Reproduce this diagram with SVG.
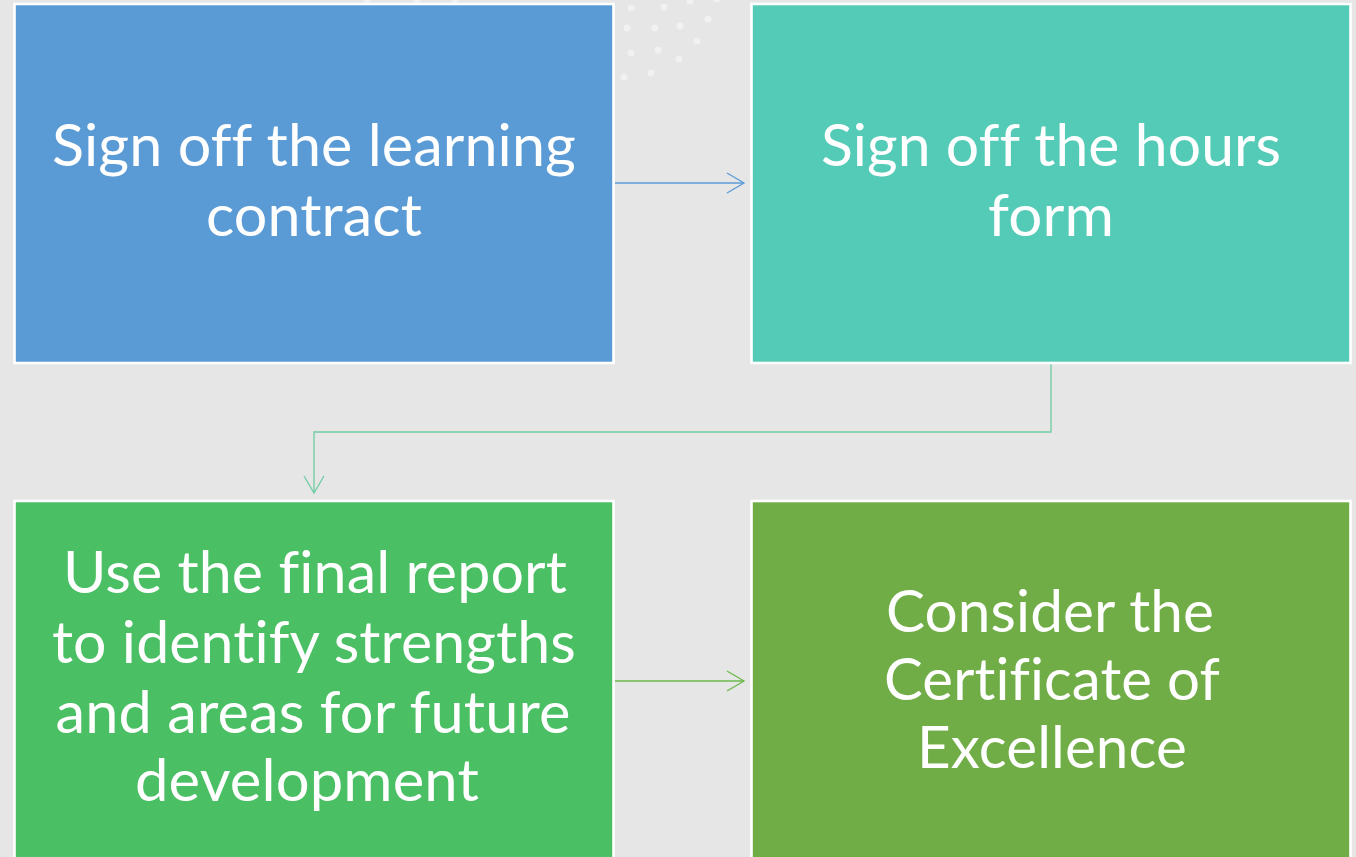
<svg xmlns="http://www.w3.org/2000/svg" width="1356" height="857" viewBox="0 0 1356 857">
  <style>
    .box { stroke: #ffffff; stroke-width: 2.6; }
    .label { font-family: "Lato", "Open Sans", "Liberation Sans", sans-serif; font-size: 58px; fill: #ffffff; text-anchor: middle; letter-spacing: 0.1px; font-variant-ligatures: none; font-feature-settings: "liga" 0, "clig" 0; }
    .dot { fill: #ffffff; fill-opacity: 0.45; }
    .conn { fill: none; stroke-width: 1.3; }
  </style>
  <defs>
    <marker id="arrow-blue" viewBox="0 0 20 22" refX="18" refY="11" markerWidth="20" markerHeight="22" markerUnits="userSpaceOnUse" orient="auto">
      <path d="M1,1 L18,11 L1,21" fill="none" stroke="#5B9BD5" stroke-width="1.3"/>
    </marker>
    <marker id="arrow-teal" viewBox="0 0 20 22" refX="18" refY="11" markerWidth="20" markerHeight="22" markerUnits="userSpaceOnUse" orient="auto">
      <path d="M1,1 L18,11 L1,21" fill="none" stroke="#6ECDA2" stroke-width="1.3"/>
    </marker>
    <marker id="arrow-green" viewBox="0 0 20 22" refX="18" refY="11" markerWidth="20" markerHeight="22" markerUnits="userSpaceOnUse" orient="auto">
      <path d="M1,1 L18,11 L1,21" fill="none" stroke="#6DB84C" stroke-width="1.3"/>
    </marker>
  </defs>

  <!-- background -->
  <rect x="0" y="0" width="1356" height="857" fill="#E6E6E6"/>

  <!-- decorative dot pattern -->
  <g id="dots">
    <circle class="dot" cx="367" cy="0" r="3.5"/>
    <circle class="dot" cx="417" cy="0" r="3.5"/>
    <circle class="dot" cx="455" cy="1" r="3.5"/>
    <circle class="dot" cx="631" cy="8" r="3.5"/>
    <circle class="dot" cx="664" cy="7" r="3.5"/>
    <circle class="dot" cx="690" cy="1" r="3.5"/>
    <circle class="dot" cx="717" cy="-1" r="3.5"/>
    <circle class="dot" cx="708" cy="19" r="3.5"/>
    <circle class="dot" cx="680" cy="26" r="3.5"/>
    <circle class="dot" cx="655" cy="28" r="3.5"/>
    <circle class="dot" cx="627" cy="28" r="3.5"/>
    <circle class="dot" cx="697" cy="41" r="3.5"/>
    <circle class="dot" cx="658" cy="50" r="3.5"/>
    <circle class="dot" cx="631" cy="53" r="3.5"/>
    <circle class="dot" cx="679" cy="59" r="3.5"/>
    <circle class="dot" cx="651" cy="73" r="3.5"/>
    <circle class="dot" cx="624" cy="77" r="3.5"/>
  </g>

  <!-- connectors -->
  <g id="connectors">
    <path class="conn" d="M615,183 H744" stroke="#5B9BD5" marker-end="url(#arrow-blue)"/>
    <path class="conn" d="M1051,364 V432 H314 V493" stroke="#6ECDA2" marker-end="url(#arrow-teal)"/>
    <path class="conn" d="M615,681 H744" stroke="#6DB84C" marker-end="url(#arrow-green)"/>
  </g>

  <g id="node-learning-contract">
    <rect class="box" x="14.5" y="4" width="599" height="359" fill="#5B9BD5"/>
    <text class="label" x="314" y="166" textLength="524" lengthAdjust="spacingAndGlyphs">Sign off the learning</text>
    <text class="label" x="314" y="236" textLength="216" lengthAdjust="spacingAndGlyphs">contract</text>
  </g>

  <g id="node-hours-form">
    <rect class="box" x="751.5" y="4" width="599" height="359" fill="#54CBB6"/>
    <text class="label" x="1051" y="166" textLength="460" lengthAdjust="spacingAndGlyphs">Sign off the hours</text>
    <text class="label" x="1051" y="236" textLength="126" lengthAdjust="spacingAndGlyphs">form</text>
  </g>

  <g id="node-final-report">
    <rect class="box" x="14.5" y="501" width="599" height="400" fill="#4ABF63"/>
    <text class="label" x="315" y="593" textLength="504" lengthAdjust="spacingAndGlyphs">Use the final report</text>
    <text class="label" x="314" y="663" textLength="524" lengthAdjust="spacingAndGlyphs">to identify strengths</text>
    <text class="label" x="313" y="733" textLength="515" lengthAdjust="spacingAndGlyphs">and areas for future</text>
    <text class="label" x="307" y="801" textLength="344" lengthAdjust="spacingAndGlyphs">development</text>
  </g>

  <g id="node-certificate">
    <rect class="box" x="751.5" y="501" width="599" height="400" fill="#70AD47"/>
    <text class="label" x="1050" y="632" textLength="328" lengthAdjust="spacingAndGlyphs">Consider the</text>
    <text class="label" x="1052" y="700" textLength="336" lengthAdjust="spacingAndGlyphs">Certificate of</text>
    <text class="label" x="1052" y="768" textLength="270" lengthAdjust="spacingAndGlyphs">Excellence</text>
  </g>
</svg>
